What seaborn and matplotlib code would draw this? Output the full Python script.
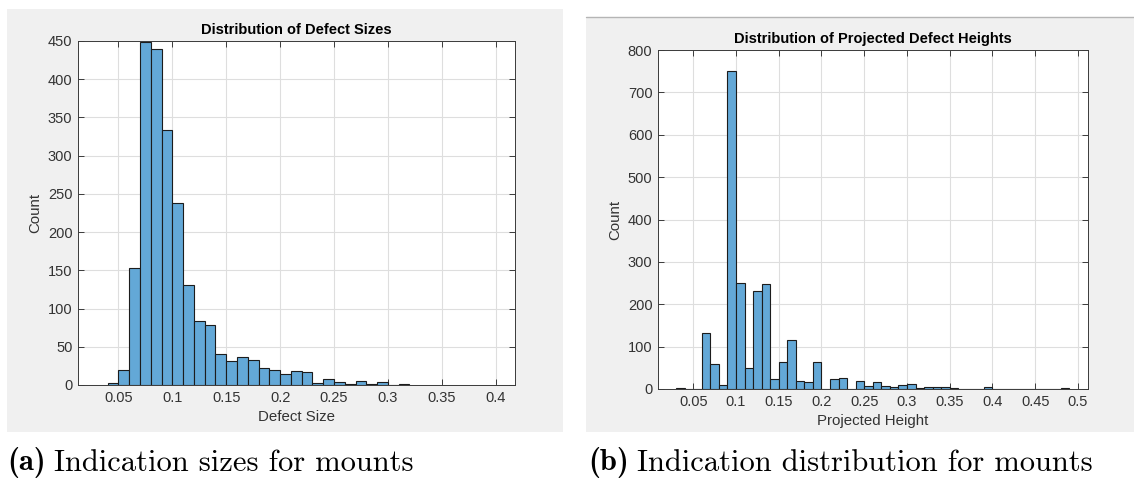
import numpy as np
import pandas as pd
import matplotlib
matplotlib.use("Agg")
import matplotlib.pyplot as plt
from matplotlib.patches import Rectangle
import seaborn as sns

# ---- data: histogram counts per 0.01-wide bin ----
size_bin_start = 0.04
size_counts = [3, 19, 153, 449, 439, 334, 238, 131, 84, 78, 40, 32, 37, 33,
               22, 19, 14, 18, 17, 3, 8, 4, 1, 5, 1, 4, 0, 1]

height_bin_start = 0.03
height_counts = [2, 0, 0, 131, 60, 9, 751, 251, 49, 231, 247, 23, 63, 116,
                 20, 16, 63, 0, 23, 26, 0, 19, 7, 16, 7, 4, 9, 11, 2, 4,
                 4, 4, 2, 0, 1, 0, 4, 0, 0, 0, 0, 0, 0, 0, 0, 2]
bin_width = 0.01

size_xticks = [0.05, 0.1, 0.15, 0.2, 0.25, 0.3, 0.35, 0.4]
height_xticks = [0.05, 0.1, 0.15, 0.2, 0.25, 0.3, 0.35, 0.4, 0.45, 0.5]
size_yticks = [0, 50, 100, 150, 200, 250, 300, 350, 400, 450]
height_yticks = [0, 100, 200, 300, 400, 500, 600, 700, 800]

titles = ["Distribution of Defect Sizes", "Distribution of Projected Defect Heights"]
xlabels = ["Defect Size", "Projected Height"]
captions = [("(a)", "Indication sizes for mounts"),
            ("(b)", "Indication distribution for mounts")]

# ---- styling ----
sns.set_theme(style="white")
plt.rcParams["font.family"] = ["Liberation Sans", "DejaVu Sans"]

W, H = 1134, 479
fig = plt.figure(figsize=(W / 100, H / 100), dpi=100)
fig.patch.set_facecolor("white")

BAR = "#63a8d7"
EDGE = "#1c1c1c"
AX_COL = "#3a3a3a"
PANEL = "#f0f0f0"


def rect(x1, y1, x2, y2):
    return [x1 / W, 1 - y2 / H, (x2 - x1) / W, (y2 - y1) / H]


def panel(x1, y1, x2, y2):
    l, b, w, h = rect(x1, y1, x2, y2)
    fig.patches.append(Rectangle((l, b), w, h, transform=fig.transFigure,
                                 facecolor=PANEL, edgecolor="none", zorder=-2))


panel(7, 9, 563, 432)
panel(586, 17, 1134, 432)
fig.add_artist(plt.Line2D([586 / W, 1], [1 - 16.5 / H] * 2, color="#b5b5b5",
                          lw=1.0, transform=fig.transFigure, zorder=-1))


def fmt(v):
    return f"{v:g}"


def draw(ax_rect, start, counts, xlim, xticks, yticks, title, xlabel):
    ax = fig.add_axes(rect(*ax_rect))
    ax.set_facecolor("white")
    n = len(counts)
    df = pd.DataFrame({
        "value": start + bin_width * (np.arange(n) + 0.5),
        "count": np.asarray(counts, dtype=float),
    })
    sns.histplot(data=df, x="value", weights="count", binwidth=bin_width,
                 binrange=(start, start + n * bin_width), ax=ax,
                 color=BAR, edgecolor=EDGE, linewidth=0.8, alpha=1.0)
    ax.set_xlim(*xlim)
    ax.set_ylim(yticks[0], yticks[-1])
    ax.set_xticks(xticks)
    ax.set_xticklabels([fmt(v) for v in xticks])
    ax.set_yticks(yticks)
    ax.set_yticklabels([fmt(v) for v in yticks])
    ax.grid(True, color="#dedede", lw=0.8)
    ax.set_axisbelow(True)
    for s in ax.spines.values():
        s.set_visible(True)
        s.set_color(AX_COL)
        s.set_linewidth(0.7)
    ax.tick_params(direction="in", length=4, width=0.7, color=AX_COL,
                   labelsize=10.5, labelcolor="#333333", top=True, right=True,
                   bottom=True, left=True, pad=4)
    ax.set_title(title, fontsize=10.5, fontweight="bold", color="black", pad=5)
    ax.set_xlabel(xlabel, fontsize=10.8, color="#333333", labelpad=4)
    ax.set_ylabel("Count", fontsize=10.8, color="#333333", labelpad=4)
    return ax


draw((78, 41, 515, 385), size_bin_start, size_counts, (0.0125, 0.418),
     size_xticks, size_yticks, titles[0], xlabels[0])
draw((658, 50, 1088, 389), height_bin_start, height_counts, (0.0088, 0.5117),
     height_xticks, height_yticks, titles[1], xlabels[1])

# ---- sub-figure captions: bold tag followed by roman text ----
renderer = fig.canvas.get_renderer()
for x0, (tag, text) in zip([7, 588], captions):
    t = fig.text(x0 / W, 1 - 463 / H, tag, fontsize=22, family="cmb10",
                 va="center", ha="left", color="black")
    bb = t.get_window_extent(renderer=renderer)
    fig.text((bb.x1 + 8) / W, 1 - 463 / H, text, fontsize=22, family="cmr10",
             va="center", ha="left", color="black")

fig.savefig("out.png", dpi=100)
